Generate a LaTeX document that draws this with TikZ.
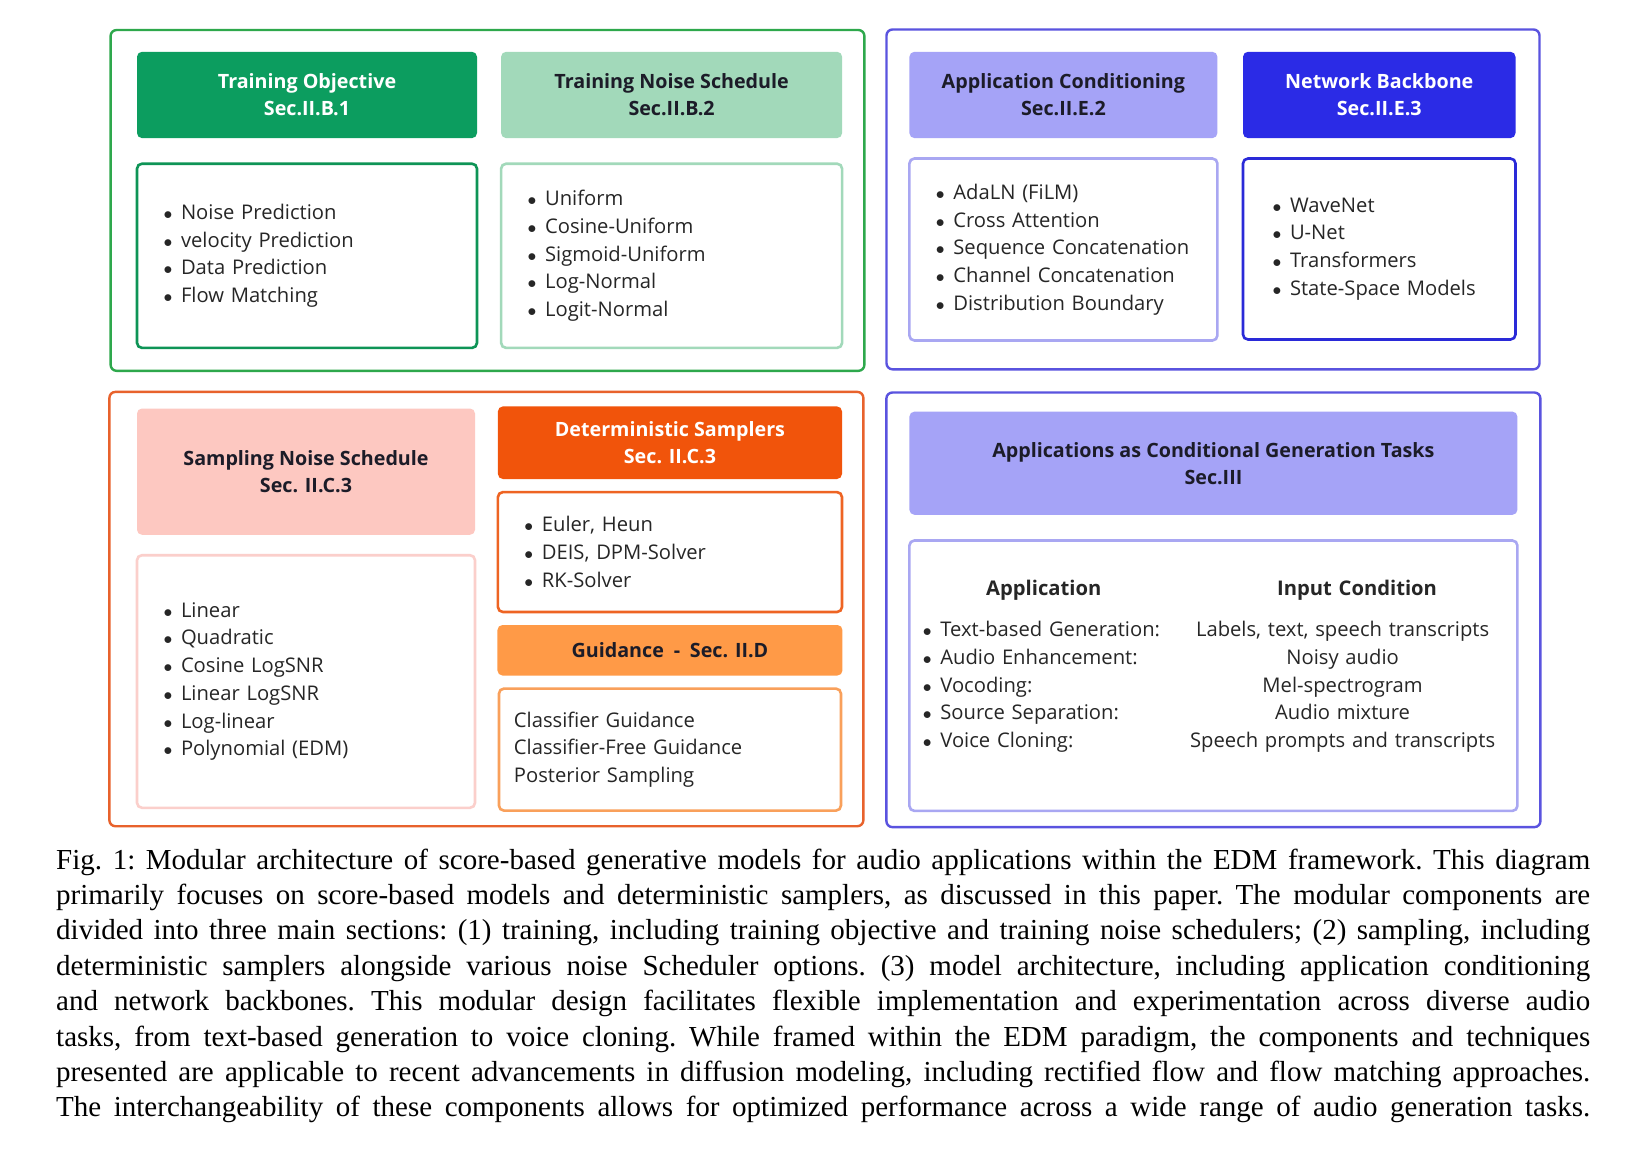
\documentclass[tikz,border=0pt]{standalone}
\usepackage{fontspec}
\usepackage{graphicx}
\setmainfont{Liberation Serif}
\newfontfamily\diagfont{Open Sans}
\usetikzlibrary{positioning,fit}
\definecolor{grnDark}{HTML}{0C9D5F}
\definecolor{grnLight}{HTML}{A2D9BA}
\definecolor{grnFrame}{HTML}{2EA84C}
\definecolor{grnLine}{HTML}{0E9456}
\definecolor{indFrame}{HTML}{5A53DF}
\definecolor{lavender}{HTML}{A5A3F7}
\definecolor{lavLine}{HTML}{A9A7F2}
\definecolor{blueDark}{HTML}{2B2BE6}
\definecolor{blueLine}{HTML}{2A2AD8}
\definecolor{orgFrame}{HTML}{E8622C}
\definecolor{pinkFill}{HTML}{FDC8C1}
\definecolor{pinkLine}{HTML}{FBCFCB}
\definecolor{orgDark}{HTML}{F1540B}
\definecolor{orgLine}{HTML}{EE6423}
\definecolor{orgLight}{HTML}{FF9A47}
\definecolor{orgLightLine}{HTML}{F9A05B}
\definecolor{inktext}{HTML}{1C1C28}
\definecolor{itemtext}{HTML}{262626}
\newcommand\itm{\makebox[19pt][l]{\hspace{1.5pt}\scalebox{0.85}{$\bullet$}}}
\newcommand\capline[1]{\hbox to 1534pt{#1}}

\begin{document}
\begin{tikzpicture}[x=1pt, y=-1pt,
  header/.style={rectangle, rounded corners=5pt, fill=#1, inner sep=0pt,
                 align=center, text=inktext,
                 font=\diagfont\bfseries\fontsize{19.7}{27}\selectfont},
  items/.style={rectangle, rounded corners=5pt, draw=#1, line width=2.6pt,
                fill=white, inner xsep=25pt, inner ysep=0pt, align=left,
                text=itemtext, font=\diagfont\fontsize{20.2}{27.7}\selectfont},
  frame/.style={rectangle, rounded corners=6pt, draw=#1, line width=2.4pt},
]
  \path[use as bounding box, fill=white] (0,0) rectangle (1650,1157);

  % training
  \node[header=grnDark, text=white, anchor=north west, minimum width=340pt, minimum height=86.3pt]
    (to) at (136.8,51.6) {Training Objective\\Sec.II.B.1};
  \node[header=grnLight, anchor=north west, minimum width=341pt, minimum height=86.3pt]
    (tns) at (500.9,51.6) {Training Noise Schedule\\Sec.II.B.2};
  \node[items=grnLine, text width=290pt, minimum height=184.2pt, below=24.1pt of to] (tol)
    {\itm Noise Prediction\\ \itm velocity Prediction\\ \itm Data Prediction\\ \itm Flow Matching};
  \node[items=grnLight, text width=291pt, minimum height=184.2pt, below=24.1pt of tns] (tnsl)
    {\itm Uniform\\ \itm Cosine-Uniform\\ \itm Sigmoid-Uniform\\ \itm Log-Normal\\ \itm Logit-Normal};
  \node[frame=grnFrame, fit=(to)(tnsl), inner xsep=23.6pt, inner ysep=21.6pt, xshift=-2.6pt] (train) {};

  % architecture
  \node[header=lavender, anchor=north west, minimum width=308pt, minimum height=86.3pt]
    (ac) at (909.2,51.6) {Application Conditioning\\Sec.II.E.2};
  \node[header=blueDark, text=white, anchor=north west, minimum width=272.5pt, minimum height=86.3pt]
    (nb) at (1242.8,51.6) {Network Backbone\\Sec.II.E.3};
  \node[items=lavLine, text width=258pt, minimum height=182pt, below=18.9pt of ac] (acl)
    {\itm AdaLN (FiLM)\\ \itm Cross Attention\\ \itm Sequence Concatenation\\ \itm Channel Concatenation\\ \itm Distribution Boundary};
  \node[items=blueLine, inner xsep=28pt, text width=216.5pt, minimum height=181pt, below=18.9pt of nb] (nbl)
    {\itm WaveNet\\ \itm U-Net\\ \itm Transformers\\ \itm State-Space Models};
  \node[frame=indFrame, fit=(ac)(nbl), inner xsep=22.7pt, inner ysep=25.3pt, yshift=-3.2pt] (arch) {};

  % sampling
  \node[header=pinkFill, anchor=north west, minimum width=338pt, minimum height=126.3pt]
    (sns) at (136.8,408.3) {Sampling Noise Schedule\\Sec. II.C.3};
  \node[items=pinkLine, text width=288pt, minimum height=252.6pt, below=18.9pt of sns] (snsl)
    {\itm Linear\\ \itm Quadratic\\ \itm Cosine LogSNR\\ \itm Linear LogSNR\\ \itm Log-linear\\ \itm Polynomial (EDM)};
  \node[header=orgDark, text=white, anchor=north west, minimum width=344.1pt, minimum height=72.6pt]
    (ds) at (497.7,406.2) {Deterministic Samplers\\Sec. II.C.3};
  \node[items=orgLine, text width=294.1pt, minimum height=119.9pt, below=11.6pt of ds] (dsl)
    {\itm Euler, Heun\\ \itm DEIS, DPM-Solver\\ \itm RK-Solver};
  \node[header=orgLight, minimum width=345pt, minimum height=50.5pt, below=11.5pt of dsl] (gd)
    {Guidance\enspace-\enspace Sec. II.D};
  \node[items=orgLightLine, inner xsep=15pt, text width=312pt, minimum height=122pt, below=11.6pt of gd] (gdl)
    {Classifier Guidance\\ Classifier-Free Guidance\\ Posterior Sampling};
  \node[frame=orgFrame, fit=(sns)(ds)(snsl)(gdl), inner xsep=23.7pt, inner ysep=14.3pt, xshift=-2.6pt] (samp) {};

  % applications
  \node[header=lavender, anchor=north west, minimum width=608pt, minimum height=103.2pt]
    (apps) at (909.2,411.4) {Applications as Conditional Generation Tasks\\Sec.III};
  \node[items=lavLine, inner xsep=12pt, text width=584pt, minimum height=270.4pt, below=24.2pt of apps] (appl)
    {\begin{tabular}{@{}l@{\hspace{30pt}}c@{}}
       \multicolumn{1}{c}{\hspace{-24pt}\bfseries Application} & \hspace{29pt}\bfseries Input Condition\\[14pt]
       \itm Text-based Generation: & Labels, text, speech transcripts\\
       \itm Audio Enhancement: & Noisy audio\\
       \itm Vocoding: & Mel-spectrogram\\
       \itm Source Separation: & Audio mixture\\
       \itm Voice Cloning: & Speech prompts and transcripts\\[20pt]
     \end{tabular}};
  \node[frame=indFrame, fit=(apps)(appl), inner xsep=21.7pt, inner ysep=16.9pt, yshift=2pt] (tasks) {};

  % caption
  \node[anchor=base west, inner sep=0pt] (cap) at (56,869)
    {\vtop{\frenchspacing\fontsize{29}{35.4}\selectfont
      \capline{Fig. 1: Modular architecture of score-based generative models for audio applications within the EDM framework. This diagram}
      \capline{primarily focuses on score-based models and deterministic samplers, as discussed in this paper. The modular components are}
      \capline{divided into three main sections: (1) training, including training objective and training noise schedulers; (2) sampling, including}
      \capline{deterministic samplers alongside various noise Scheduler options. (3) model architecture, including application conditioning}
      \capline{and network backbones. This modular design facilitates flexible implementation and experimentation across diverse audio}
      \capline{tasks, from text-based generation to voice cloning. While framed within the EDM paradigm, the components and techniques}
      \capline{presented are applicable to recent advancements in diffusion modeling, including rectified flow and flow matching approaches.}
      \capline{The interchangeability of these components allows for optimized performance across a wide range of audio generation tasks.}}};
\end{tikzpicture}
\end{document}
